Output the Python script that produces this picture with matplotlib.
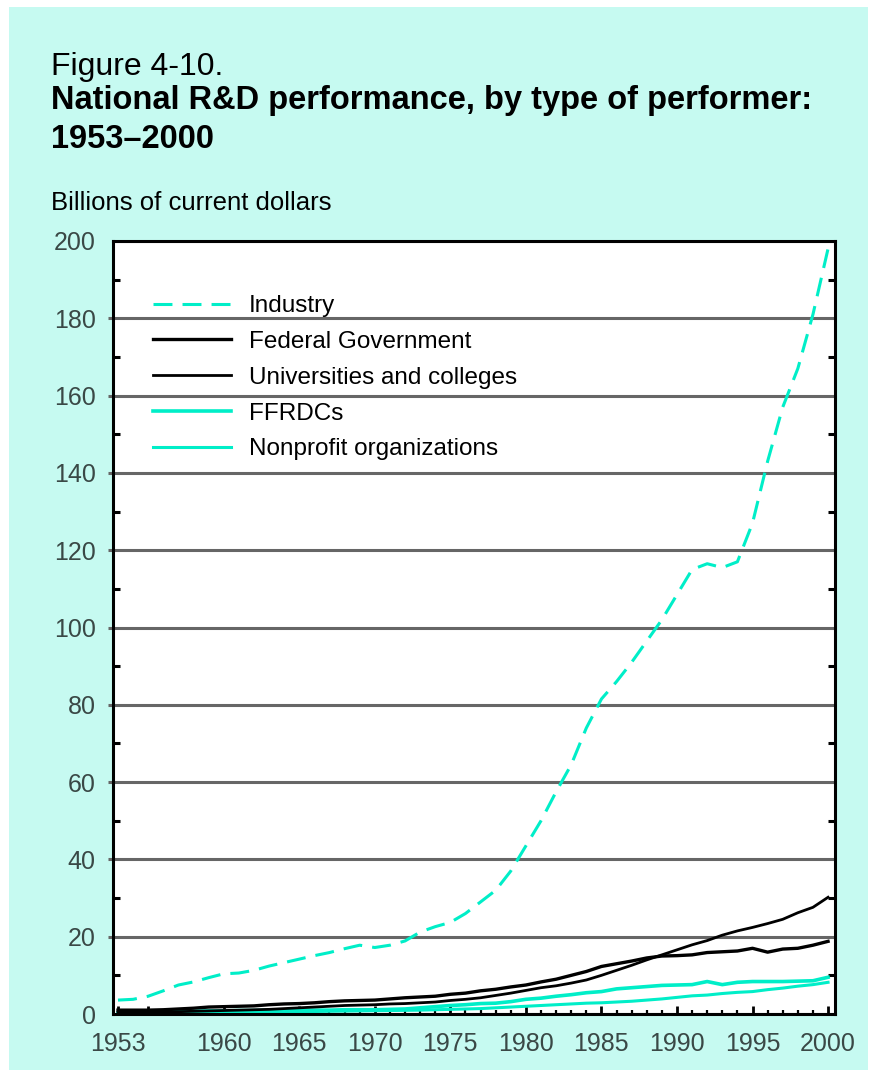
import matplotlib.pyplot as plt
from matplotlib.patches import Rectangle
from matplotlib.ticker import FixedLocator, MultipleLocator
from matplotlib.lines import Line2D

# values, billions of current dollars
years = list(range(1953, 2001))
industry = [3.6, 3.8, 4.6, 6.0, 7.5, 8.3, 9.4, 10.4, 10.6, 11.3,
            12.4, 13.3, 14.2, 15.1, 15.9, 16.9, 17.8, 17.2, 17.8, 18.9,
            21.2, 22.6, 23.7, 26.0, 29.0, 32.0, 37.0, 43.5, 50.0, 57.5,
            64.5, 74.0, 81.5, 86.0, 91.0, 96.5, 102.0, 108.5, 115.0, 116.5,
            115.5, 117.0, 127.0, 143.0, 157.0, 167.0, 181.0, 198.0]
federal = [1.0, 1.0, 1.0, 1.1, 1.3, 1.5, 1.8, 1.9, 2.0, 2.1,
           2.4, 2.6, 2.7, 2.9, 3.2, 3.4, 3.5, 3.6, 3.9, 4.2,
           4.4, 4.6, 5.1, 5.4, 6.0, 6.4, 7.0, 7.5, 8.3, 9.0,
           10.0, 11.0, 12.3, 13.0, 13.7, 14.5, 15.0, 15.1, 15.3, 15.9,
           16.1, 16.3, 17.0, 16.0, 16.8, 17.0, 17.8, 18.8]
universities = [0.4, 0.45, 0.5, 0.55, 0.6, 0.7, 0.8, 0.9, 1.0, 1.1,
                1.2, 1.4, 1.6, 1.8, 2.0, 2.2, 2.3, 2.4, 2.6, 2.7,
                2.9, 3.1, 3.5, 3.8, 4.2, 4.8, 5.4, 6.1, 6.8, 7.3,
                8.0, 8.8, 10.0, 11.3, 12.6, 14.0, 15.3, 16.6, 17.9, 19.0,
                20.4, 21.5, 22.4, 23.4, 24.5, 26.2, 27.6, 30.2]
ffrdcs = [0.2, 0.25, 0.3, 0.4, 0.6, 0.7, 0.8, 0.8, 0.9, 0.9,
          1.0, 1.0, 1.0, 1.0, 1.0, 1.1, 1.1, 1.1, 1.2, 1.3,
          1.6, 1.9, 2.2, 2.4, 2.7, 2.8, 3.2, 3.8, 4.1, 4.6,
          5.0, 5.5, 5.8, 6.5, 6.8, 7.1, 7.4, 7.5, 7.6, 8.4,
          7.6, 8.2, 8.4, 8.4, 8.4, 8.5, 8.6, 9.5]
nonprofit = [0.1, 0.1, 0.15, 0.2, 0.2, 0.25, 0.3, 0.35, 0.4, 0.45,
             0.5, 0.55, 0.6, 0.65, 0.7, 0.75, 0.8, 0.85, 0.9, 0.95,
             1.0, 1.1, 1.2, 1.3, 1.4, 1.6, 1.8, 2.0, 2.2, 2.4,
             2.6, 2.8, 2.9, 3.1, 3.3, 3.6, 3.9, 4.3, 4.7, 4.9,
             5.3, 5.6, 5.8, 6.3, 6.7, 7.2, 7.6, 8.2]

x_ticks = [1953, 1955, 1960, 1965, 1970, 1975, 1980, 1985, 1990, 1995, 2000]
x_labels = ['1953', '', '1960', '1965', '1970', '1975', '1980', '1985',
            '1990', '1995', '2000']
y_ticks = list(range(0, 201, 20))

CYAN = '#00EEC8'
BG = '#C6FAF1'
GRID = '#666666'
TICKTXT = '#3a4846'

W, H = 870, 1070
plt.rcParams['font.family'] = ['Liberation Sans', 'DejaVu Sans']


def fx(x):
    return x / W


def fy(y):
    return 1 - y / H


fig = plt.figure(figsize=(W / 100, H / 100), dpi=100, facecolor='white')
fig.patches.append(Rectangle((fx(9), 0), fx(868 - 9), 1 - 7 / H,
                             transform=fig.transFigure, facecolor=BG,
                             edgecolor='none', zorder=-10))

# titles
fig.text(fx(51), fy(75), 'Figure 4-10.', fontsize=23, va='baseline')
fig.text(fx(51), fy(109), 'National R&D performance, by type of performer:',
         fontsize=23.5, fontweight='bold', va='baseline')
fig.text(fx(51), fy(148), '1953\u20132000', fontsize=23.5,
         fontweight='bold', va='baseline')
fig.text(fx(51), fy(210), 'Billions of current dollars', fontsize=18.5,
         va='baseline')

ax = fig.add_axes([fx(113), fy(1014), fx(722), 773 / H])
ax.set_zorder(1)
ax.set_facecolor('white')

ax.plot(years, ffrdcs, color=CYAN, lw=2.6, zorder=2, label='FFRDCs')
ax.plot(years, nonprofit, color=CYAN, lw=2.2, zorder=2,
        label='Nonprofit organizations')
ax.plot(years, universities, color='black', lw=2.0, zorder=3,
        label='Universities and colleges')
ax.plot(years, federal, color='black', lw=2.4, zorder=3,
        label='Federal Government')
ax.plot(years, industry, color=CYAN, lw=2.2, dashes=(6.2, 3.3), zorder=4,
        label='Industry')

ax.set_xlim(1952.67, 2000.46)
ax.set_ylim(0, 200)

ax.yaxis.set_major_locator(FixedLocator(y_ticks))
ax.yaxis.set_minor_locator(FixedLocator(list(range(10, 200, 20))))
ax.set_yticklabels([str(v) for v in y_ticks])
ax.xaxis.set_major_locator(FixedLocator(x_ticks))
ax.xaxis.set_minor_locator(MultipleLocator(1))
ax.set_xticklabels(x_labels)

ax.grid(axis='y', which='major', color=GRID, lw=2.2)
ax.set_axisbelow(True)

ax.tick_params(axis='y', which='major', direction='out', length=3.5,
               width=2.2, color=GRID, labelsize=18, labelcolor=TICKTXT, pad=9)
ax.tick_params(axis='y', which='minor', direction='in', length=5,
               width=2.2, color='black', left=True, right=True)
ax.tick_params(axis='x', which='major', direction='in', length=6,
               width=2.0, color='black', labelsize=18, labelcolor=TICKTXT,
               pad=13)
ax.tick_params(axis='x', which='minor', direction='in', length=3,
               width=1.6, color='black')
for t in (ax.yaxis.get_major_ticks()[0], ax.yaxis.get_major_ticks()[-1]):
    t.tick1line.set_visible(False)

for s in ax.spines.values():
    s.set_linewidth(2.2)
    s.set_color('black')

# legend in the reference order
handles = [
    Line2D([], [], color=CYAN, lw=2.2, dashes=(6.2, 3.3)),
    Line2D([], [], color='black', lw=2.4),
    Line2D([], [], color='black', lw=2.0),
    Line2D([], [], color=CYAN, lw=2.6),
    Line2D([], [], color=CYAN, lw=2.2),
]
labels = ['Industry', 'Federal Government', 'Universities and colleges',
          'FFRDCs', 'Nonprofit organizations']
ax.legend(handles, labels, loc='upper left', frameon=False, fontsize=17.5,
          handlelength=3.2, handletextpad=0.75, labelspacing=0.57,
          borderaxespad=0, borderpad=0,
          bbox_to_anchor=(fx(153), fy(295)), bbox_transform=fig.transFigure)

fig.savefig('out.png', dpi=100, facecolor=fig.get_facecolor())
